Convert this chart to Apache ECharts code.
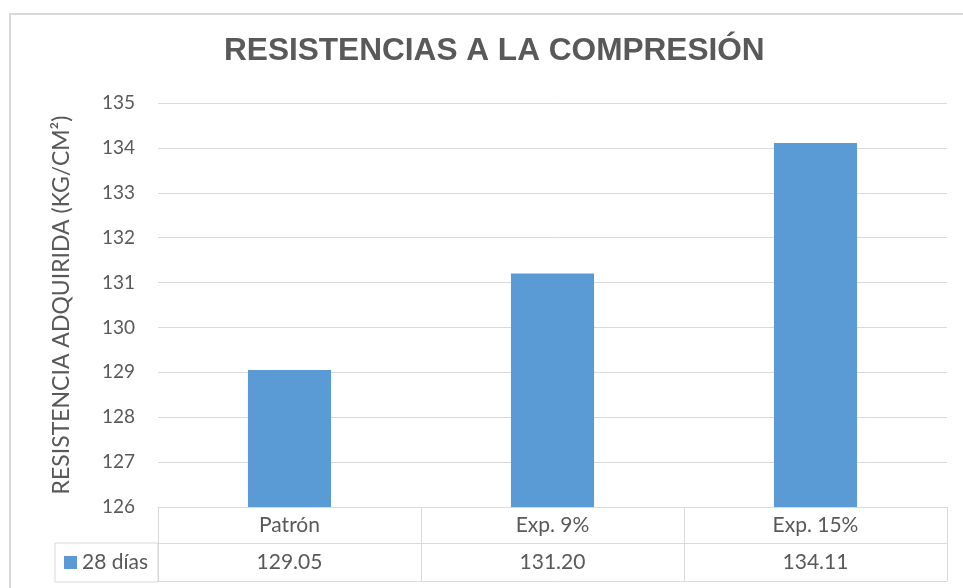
<!DOCTYPE html>
<html>
<head>
<meta charset="utf-8">
<script src="https://cdn.jsdelivr.net/npm/echarts@6/dist/echarts.min.js"></script>
<style>
  html, body { margin: 0; padding: 0; background: #ffffff; }
  #frame { position: absolute; left: 9px; top: 13px; width: 960px; height: 580px;
           border-left: 2px solid #d9d9d9; border-top: 2px solid #d9d9d9; }
  #chart { position: absolute; left: 0; top: 0; width: 963px; height: 588px; }
</style>
</head>
<body>
<div id="frame"></div>
<div id="chart"></div>
<script>
const categories = ['Patrón', 'Exp. 9%', 'Exp. 15%'];
const seriesName = '28 días';
const values = [129.05, 131.20, 134.11];
const yMin = 126, yMax = 135, yStep = 1;

const textColor = '#595959';
const lineColor = '#d9d9d9';
const fontFam = 'Lato, "Liberation Sans", sans-serif';

const chart = echarts.init(document.getElementById('chart'));
chart.setOption({
  animation: false,
  backgroundColor: 'transparent',
  title: {
    text: 'RESISTENCIAS A LA COMPRESIÓN',
    left: 219, top: 30,
    textStyle: { fontFamily: '"Liberation Sans", Arial, sans-serif', fontWeight: 'bold', fontSize: 31.6, color: textColor }
  },
  legend: {
    left: 55, top: 543,
    padding: [9, 10, 9, 9],
    borderColor: lineColor, borderWidth: 1,
    icon: 'rect', itemWidth: 13, itemHeight: 13, itemGap: 0,
    textStyle: { fontFamily: fontFam, fontSize: 21, color: textColor },
    data: [seriesName]
  },
  grid: { left: 158, right: 16, top: 103, bottom: 81, containLabel: false },
  xAxis: [
    {
      type: 'category', data: categories,
      axisLine: { lineStyle: { color: lineColor, width: 1 } },
      axisTick: { show: true, length: 74, lineStyle: { color: lineColor } },
      axisLabel: { margin: 8, fontFamily: fontFam, fontSize: 21, color: textColor }
    },
    {
      type: 'category', data: categories, position: 'bottom', offset: 36,
      axisLine: { show: true, lineStyle: { color: lineColor, width: 1 } },
      axisTick: { show: false },
      axisLabel: { margin: 9, fontFamily: fontFam, fontSize: 21, color: textColor,
                   formatter: (v, i) => values[i].toFixed(2) }
    },
    {
      type: 'category', data: categories, position: 'bottom', offset: 74,
      axisLine: { show: true, lineStyle: { color: lineColor, width: 1 } },
      axisTick: { show: false },
      axisLabel: { show: false }
    }
  ],
  yAxis: {
    type: 'value', min: yMin, max: yMax, interval: yStep,
    name: 'RESISTENCIA ADQUIRIDA (KG/CM²)',
    nameLocation: 'middle', nameGap: 85,
    nameTextStyle: { fontFamily: fontFam, fontSize: 23, color: textColor },
    axisLine: { show: false }, axisTick: { show: false },
    axisLabel: { margin: 23, fontFamily: fontFam, fontSize: 19, color: textColor },
    splitLine: { lineStyle: { color: lineColor, width: 1 } }
  },
  series: [{
    name: seriesName, type: 'bar', xAxisIndex: 0,
    data: values, barWidth: '31.6%',
    itemStyle: { color: '#5b9bd5' }
  }]
});
</script>
</body>
</html>
